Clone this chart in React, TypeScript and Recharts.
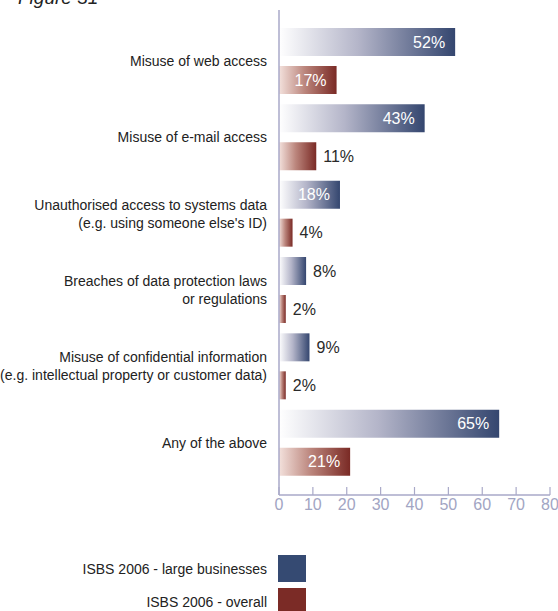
import React from 'react';
import { BarChart, Bar, XAxis, YAxis, LabelList } from 'recharts';

// categories, two lines each where the original breaks them
const CATEGORIES = [
  'Misuse of web access',
  'Misuse of e-mail access',
  "Unauthorised access to systems data\n(e.g. using someone else's ID)",
  'Breaches of data protection laws\nor regulations',
  'Misuse of confidential information\n(e.g. intellectual property or customer data)',
  'Any of the above',
];
const LARGE = [52, 43, 18, 8, 9, 65];
const OVERALL = [17, 11, 4, 2, 2, 21];
const X_TICKS = [0, 10, 20, 30, 40, 50, 60, 70, 80];

const SERIES_NAMES = ['ISBS 2006 - large businesses', 'ISBS 2006 - overall'];

const FONT = "'Liberation Sans Narrow', 'Liberation Sans', Arial, sans-serif";
const AXIS_COLOR = '#a9a9c8';
const BLUE = '#34466f';
const RED = '#7a2a25';

const data = CATEGORIES.map((name, i) => ({ name, large: LARGE[i], overall: OVERALL[i] }));

const CategoryTick = (props: any) => {
  const { x, y, payload } = props;
  const lines: string[] = String(payload.value).split('\n');
  const lh = 18;
  const start = y - ((lines.length - 1) * lh) / 2;
  return (
    <text x={x} y={start} textAnchor="end" fontFamily={FONT} fontSize={14} fill="#222">
      {lines.map((l, i) => (
        <tspan key={i} x={x} y={start + i * lh} dy="0.35em">{l}</tspan>
      ))}
    </text>
  );
};

const ValueTick = (props: any) => {
  const { x, y, payload } = props;
  return (
    <g>
      <line x1={x} y1={y - 8} x2={x} y2={y} stroke={AXIS_COLOR} strokeWidth={1.2} />
      <text x={x} y={y + 15} textAnchor="middle" fontFamily={FONT} fontSize={16} fill="#a2a5c3">
        {payload.value}
      </text>
    </g>
  );
};

const BarValue = (props: any) => {
  const { x, y, width, height, value } = props;
  const inside = value >= 15;
  return (
    <text
      x={inside ? x + width - 10 : x + width + 7}
      y={y + height / 2}
      dy="0.36em"
      textAnchor={inside ? 'end' : 'start'}
      fontFamily={FONT}
      fontSize={16}
      fill={inside ? '#ffffff' : '#2a2a2a'}
    >
      {value}%
    </text>
  );
};

export default function App() {
  return (
    <div style={{ position: 'absolute', left: 0, top: 0, width: 558, height: 611, background: '#fff', overflow: 'hidden' }}>
      <div style={{ position: 'absolute', left: 18, top: -13, fontFamily: "'Liberation Sans', Arial, sans-serif", fontStyle: 'italic', fontSize: 19, color: '#222', whiteSpace: 'nowrap' }}>
        Figure 31
      </div>
      <BarChart
        width={558}
        height={530}
        data={data}
        layout="vertical"
        margin={{ top: 10, right: 8, bottom: 0, left: 0 }}
        barSize={28}
        barGap={10}
      >
        <defs>
          <linearGradient id="gradBlue" x1="0" y1="0" x2="1" y2="0">
            <stop offset="0%" stopColor="#ffffff" />
            <stop offset="45%" stopColor="#b4b5c9" />
            <stop offset="100%" stopColor={BLUE} />
          </linearGradient>
          <linearGradient id="gradRed" x1="0" y1="0" x2="1" y2="0">
            <stop offset="0%" stopColor="#f3e1dc" />
            <stop offset="45%" stopColor="#bb857c" />
            <stop offset="100%" stopColor={RED} />
          </linearGradient>
        </defs>
        <XAxis
          type="number"
          domain={[0, 80]}
          ticks={X_TICKS}
          height={35}
          tickSize={0}
          tickMargin={0}
          tickLine={false}
          axisLine={{ stroke: AXIS_COLOR, strokeWidth: 1.5 }}
          tick={<ValueTick />}
          interval={0}
        />
        <YAxis
          type="category"
          dataKey="name"
          width={279}
          tickSize={0}
          tickMargin={12}
          tickLine={false}
          axisLine={{ stroke: AXIS_COLOR, strokeWidth: 1.5 }}
          tick={<CategoryTick />}
          padding={{ top: 13, bottom: 14 }}
          interval={0}
        />
        <Bar dataKey="large" name={SERIES_NAMES[0]} fill="url(#gradBlue)" isAnimationActive={false}>
          <LabelList dataKey="large" content={<BarValue />} />
        </Bar>
        <Bar dataKey="overall" name={SERIES_NAMES[1]} fill="url(#gradRed)" isAnimationActive={false}>
          <LabelList dataKey="overall" content={<BarValue />} />
        </Bar>
      </BarChart>
      {SERIES_NAMES.map((s, i) => (
        <div key={s} style={{ position: 'absolute', left: 0, top: 555 + i * 33, width: 306, height: 27, display: 'flex', alignItems: 'center', justifyContent: 'flex-end' }}>
          <span style={{ fontFamily: FONT, fontSize: 14, color: '#222', marginRight: 11 }}>{s}</span>
          <span style={{ width: 28, height: 27, background: i === 0 ? '#354a72' : '#7b2b26', display: 'inline-block' }} />
        </div>
      ))}
    </div>
  );
}
